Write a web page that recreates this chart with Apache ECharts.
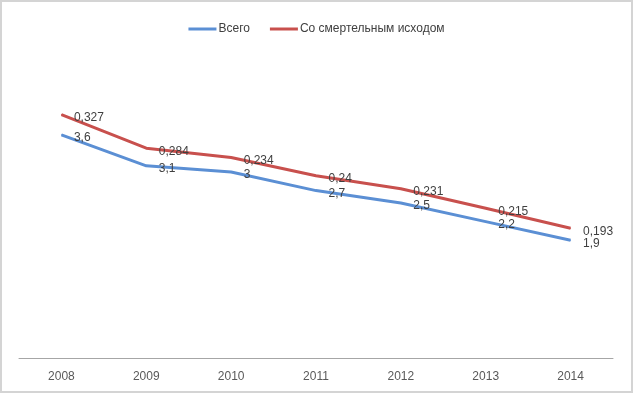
<!DOCTYPE html>
<html><head><meta charset="utf-8">
<script src="https://cdn.jsdelivr.net/npm/echarts@6/dist/echarts.min.js"></script>
<style>
html,body{margin:0;padding:0;background:#fff;}
#frame{position:absolute;left:0;top:0;width:629px;height:389px;border:2px solid #d4d4d4;}
#c{position:absolute;left:0;top:0;width:633px;height:395px;}
</style></head>
<body>
<div id="frame"></div>
<div id="c"></div>
<script>
const years = ['2008','2009','2010','2011','2012','2013','2014'];
const totalValues = [3.6, 3.1, 3, 2.7, 2.5, 2.2, 1.9];
const fatalValues = [0.327, 0.284, 0.234, 0.24, 0.231, 0.215, 0.193];
const seriesNames = ['Всего', 'Со смертельным исходом'];

const fmt = p => String(p.value).replace('.', ',');
const labelStyle = {show:true, position:'right', distance:12, offset:[0,3], color:'#404040', fontFamily:'Liberation Sans', fontSize:12, formatter:fmt};

const chart = echarts.init(document.getElementById('c'), null, {renderer:'canvas'});
chart.setOption({
  animation:false,
  legend:{top:18, left:'center', itemWidth:28, itemHeight:3, itemGap:20, icon:'rect',
    textStyle:{fontFamily:'Liberation Sans', fontSize:12, color:'#404040', padding:[0,0,0,-3]},
    data:seriesNames},
  grid:{left:19, right:20, top:48, bottom:37},
  xAxis:{type:'category', data:years, boundaryGap:true,
    axisLine:{lineStyle:{color:'#a6a6a6', width:1}}, axisTick:{show:false},
    axisLabel:{color:'#595959', fontFamily:'Liberation Sans', fontSize:12, margin:13}},
  yAxis:{type:'value', min:0, max:5, show:false, splitLine:{show:false}},
  series:[
    {name:seriesNames[0], type:'line', stack:'s', data:totalValues, showSymbol:true, symbol:'circle', symbolSize:1,
     lineStyle:{color:'#5b8fd4', width:3}, itemStyle:{color:'#5b8fd4'}, label:labelStyle},
    {name:seriesNames[1], type:'line', stack:'s', data:fatalValues, showSymbol:true, symbol:'circle', symbolSize:1,
     lineStyle:{color:'#c8504d', width:3}, itemStyle:{color:'#c8504d'}, label:labelStyle}
  ]
});
</script>
</body></html>
